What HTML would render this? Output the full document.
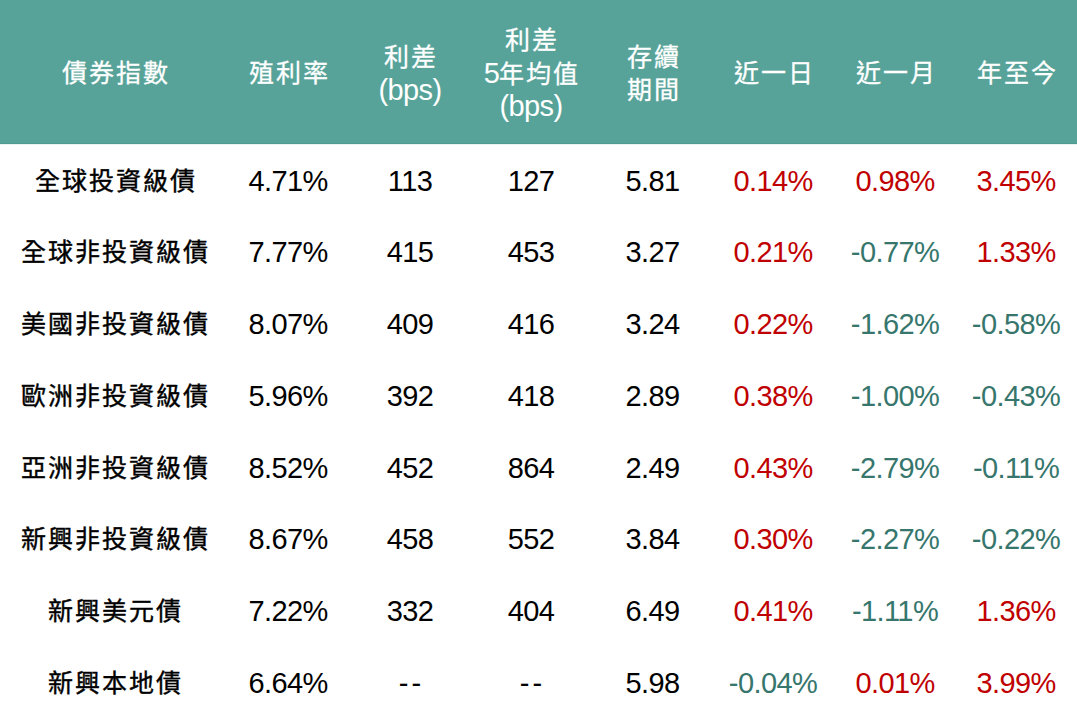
<!DOCTYPE html>
<html lang="zh-TW">
<head>
<meta charset="utf-8">
<style>
html,body{margin:0;padding:0;background:#fff;}
body{width:1077px;height:718px;overflow:hidden;position:relative;font-family:"Liberation Sans",sans-serif;}
.hdr{position:absolute;left:0;top:0;width:1077px;height:144px;background:#57a399;}
.c{position:absolute;width:0;height:0;}
.c{display:flex;align-items:center;justify-content:center;}
.t{white-space:nowrap;text-align:center;}
.c{font-size:29px;line-height:32.5px;letter-spacing:-0.6px;white-space:nowrap;text-align:center;}
.z{font-size:25px;letter-spacing:2.0px;margin-right:-2.0px;}
.h{color:#fff;}
.k{color:#000;}
.l .z{-webkit-text-stroke:0.4px #000;}
.h .z{-webkit-text-stroke:0.3px #fff;}
.r{color:#c00000;}
.d{letter-spacing:3px;margin-right:-3px;}
.hdr:after{content:"";position:absolute;left:0;right:0;top:143px;height:1px;background:#4f9b91;}
.edge{position:absolute;left:0;width:1077px;top:144px;height:1px;background:#eaf4f2;}
.g{color:#36766c;}
</style>
</head>
<body>
<div class="hdr"></div><div class="edge"></div>
<div class="c h" style="left:114.5px;top:73px"><div class="t"><span class="z">債券指數</span></div></div>
<div class="c h" style="left:288px;top:73px"><div class="t"><span class="z">殖利率</span></div></div>
<div class="c h" style="left:410px;top:73px"><div class="t"><span class="z">利差</span><br>(bps)</div></div>
<div class="c h" style="left:531px;top:73px"><div class="t"><span class="z">利差</span><br>5<span class="z">年均值</span><br>(bps)</div></div>
<div class="c h" style="left:652.5px;top:73px"><div class="t"><span class="z">存續</span><br><span class="z">期間</span></div></div>
<div class="c h" style="left:773px;top:73px"><div class="t"><span class="z">近一日</span></div></div>
<div class="c h" style="left:895px;top:73px"><div class="t"><span class="z">近一月</span></div></div>
<div class="c h" style="left:1016px;top:73px"><div class="t"><span class="z">年至今</span></div></div>
<div class="c k l" style="left:114.5px;top:181.20px"><div class="t"><span class="z">全球投資級債</span></div></div>
<div class="c k" style="left:288px;top:181.20px"><div class="t">4.71%</div></div>
<div class="c k" style="left:410px;top:181.20px"><div class="t">113</div></div>
<div class="c k" style="left:531px;top:181.20px"><div class="t">127</div></div>
<div class="c k" style="left:652.5px;top:181.20px"><div class="t">5.81</div></div>
<div class="c r" style="left:773px;top:181.20px"><div class="t">0.14%</div></div>
<div class="c r" style="left:895px;top:181.20px"><div class="t">0.98%</div></div>
<div class="c r" style="left:1016px;top:181.20px"><div class="t">3.45%</div></div>
<div class="c k l" style="left:114.5px;top:252.00px"><div class="t"><span class="z">全球非投資級債</span></div></div>
<div class="c k" style="left:288px;top:252.00px"><div class="t">7.77%</div></div>
<div class="c k" style="left:410px;top:252.00px"><div class="t">415</div></div>
<div class="c k" style="left:531px;top:252.00px"><div class="t">453</div></div>
<div class="c k" style="left:652.5px;top:252.00px"><div class="t">3.27</div></div>
<div class="c r" style="left:773px;top:252.00px"><div class="t">0.21%</div></div>
<div class="c g" style="left:895px;top:252.00px"><div class="t">-0.77%</div></div>
<div class="c r" style="left:1016px;top:252.00px"><div class="t">1.33%</div></div>
<div class="c k l" style="left:114.5px;top:324.00px"><div class="t"><span class="z">美國非投資級債</span></div></div>
<div class="c k" style="left:288px;top:324.00px"><div class="t">8.07%</div></div>
<div class="c k" style="left:410px;top:324.00px"><div class="t">409</div></div>
<div class="c k" style="left:531px;top:324.00px"><div class="t">416</div></div>
<div class="c k" style="left:652.5px;top:324.00px"><div class="t">3.24</div></div>
<div class="c r" style="left:773px;top:324.00px"><div class="t">0.22%</div></div>
<div class="c g" style="left:895px;top:324.00px"><div class="t">-1.62%</div></div>
<div class="c g" style="left:1016px;top:324.00px"><div class="t">-0.58%</div></div>
<div class="c k l" style="left:114.5px;top:396.00px"><div class="t"><span class="z">歐洲非投資級債</span></div></div>
<div class="c k" style="left:288px;top:396.00px"><div class="t">5.96%</div></div>
<div class="c k" style="left:410px;top:396.00px"><div class="t">392</div></div>
<div class="c k" style="left:531px;top:396.00px"><div class="t">418</div></div>
<div class="c k" style="left:652.5px;top:396.00px"><div class="t">2.89</div></div>
<div class="c r" style="left:773px;top:396.00px"><div class="t">0.38%</div></div>
<div class="c g" style="left:895px;top:396.00px"><div class="t">-1.00%</div></div>
<div class="c g" style="left:1016px;top:396.00px"><div class="t">-0.43%</div></div>
<div class="c k l" style="left:114.5px;top:468.00px"><div class="t"><span class="z">亞洲非投資級債</span></div></div>
<div class="c k" style="left:288px;top:468.00px"><div class="t">8.52%</div></div>
<div class="c k" style="left:410px;top:468.00px"><div class="t">452</div></div>
<div class="c k" style="left:531px;top:468.00px"><div class="t">864</div></div>
<div class="c k" style="left:652.5px;top:468.00px"><div class="t">2.49</div></div>
<div class="c r" style="left:773px;top:468.00px"><div class="t">0.43%</div></div>
<div class="c g" style="left:895px;top:468.00px"><div class="t">-2.79%</div></div>
<div class="c g" style="left:1016px;top:468.00px"><div class="t">-0.11%</div></div>
<div class="c k l" style="left:114.5px;top:539.00px"><div class="t"><span class="z">新興非投資級債</span></div></div>
<div class="c k" style="left:288px;top:539.00px"><div class="t">8.67%</div></div>
<div class="c k" style="left:410px;top:539.00px"><div class="t">458</div></div>
<div class="c k" style="left:531px;top:539.00px"><div class="t">552</div></div>
<div class="c k" style="left:652.5px;top:539.00px"><div class="t">3.84</div></div>
<div class="c r" style="left:773px;top:539.00px"><div class="t">0.30%</div></div>
<div class="c g" style="left:895px;top:539.00px"><div class="t">-2.27%</div></div>
<div class="c g" style="left:1016px;top:539.00px"><div class="t">-0.22%</div></div>
<div class="c k l" style="left:114.5px;top:611.00px"><div class="t"><span class="z">新興美元債</span></div></div>
<div class="c k" style="left:288px;top:611.00px"><div class="t">7.22%</div></div>
<div class="c k" style="left:410px;top:611.00px"><div class="t">332</div></div>
<div class="c k" style="left:531px;top:611.00px"><div class="t">404</div></div>
<div class="c k" style="left:652.5px;top:611.00px"><div class="t">6.49</div></div>
<div class="c r" style="left:773px;top:611.00px"><div class="t">0.41%</div></div>
<div class="c g" style="left:895px;top:611.00px"><div class="t">-1.11%</div></div>
<div class="c r" style="left:1016px;top:611.00px"><div class="t">1.36%</div></div>
<div class="c k l" style="left:114.5px;top:683.00px"><div class="t"><span class="z">新興本地債</span></div></div>
<div class="c k" style="left:288px;top:683.00px"><div class="t">6.64%</div></div>
<div class="c k" style="left:410px;top:683.00px"><div class="t"><span class="d">--</span></div></div>
<div class="c k" style="left:531px;top:683.00px"><div class="t"><span class="d">--</span></div></div>
<div class="c k" style="left:652.5px;top:683.00px"><div class="t">5.98</div></div>
<div class="c g" style="left:773px;top:683.00px"><div class="t">-0.04%</div></div>
<div class="c r" style="left:895px;top:683.00px"><div class="t">0.01%</div></div>
<div class="c r" style="left:1016px;top:683.00px"><div class="t">3.99%</div></div>
</body>
</html>
